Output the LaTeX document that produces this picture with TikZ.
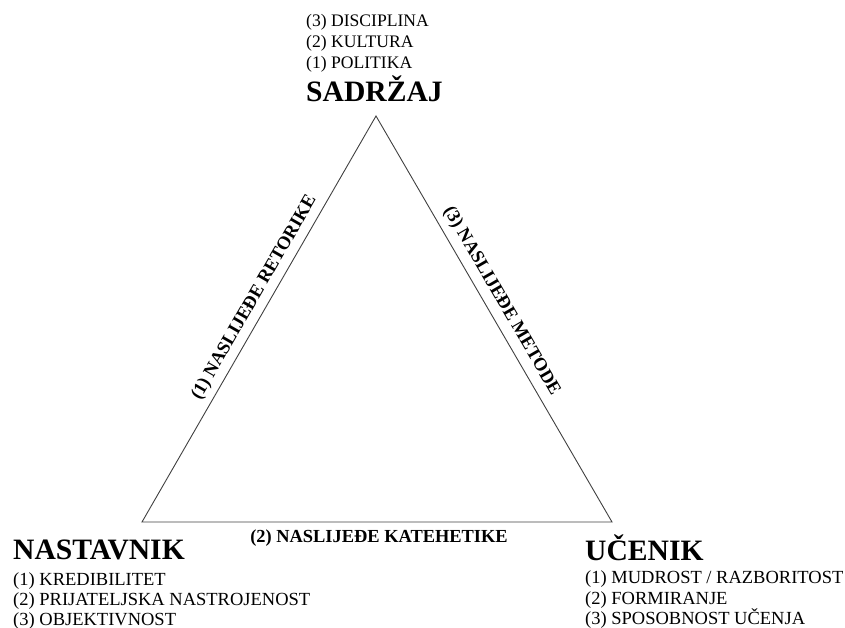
\documentclass[tikz,border=0pt]{standalone}
\usepackage{fontspec}
\setmainfont{Liberation Serif}
\begin{document}
\begin{tikzpicture}[x=1pt,y=-1pt,
  title/.style={anchor=base west,inner sep=0pt,font=\fontsize{29.6}{33}\selectfont\bfseries},
  item/.style={anchor=base west,inner sep=0pt,font=\fontsize{18.5}{21}\selectfont},
  topitem/.style={anchor=base west,inner sep=0pt,font=\fontsize{17.6}{20}\selectfont},
  edgelabel/.style={font=\fontsize{18.4}{21}\selectfont\bfseries,inner sep=0pt},
  side/.style={line width=0.9pt,draw=black!75}]
\useasboundingbox (0,0) rectangle (845,628);

% corners of the triangle
\coordinate (T) at (376,116);
\coordinate (L) at (142,522);
\coordinate (R) at (612,522);

\draw[side] (L) -- (T) -- (R) -- cycle;

% edge labels
\path (L) -- (T) node[edgelabel,pos=0.534,sloped,above=6pt] (retorika) {(1) NASLIJEĐE RETORIKE};
\path (T) -- (R) node[edgelabel,pos=0.475,sloped,above=7pt] (metode) {(3) NASLIJEĐE METODE};
\path (L) -- (R) node[edgelabel,midway,xshift=2pt,below=8pt] (katehetika) {(2) NASLIJEĐE KATEHETIKE};

% top corner
\node[topitem] (s3) at (306,27) {(3) DISCIPLINA};
\node[topitem] (s2) at (306,48) {(2) KULTURA};
\node[topitem] (s1) at (306,69) {(1) POLITIKA};
\node[title] (sadrzaj) at (306,102) {SADRŽAJ};

% bottom-left corner
\node[title] (nastavnik) at (13,559) {NASTAVNIK};
\node[item] (n1) at (13,585) {(1) KREDIBILITET};
\node[item] (n2) at (13,605) {(2) PRIJATELJSKA NASTROJENOST};
\node[item] (n3) at (13,625) {(3) OBJEKTIVNOST};

% bottom-right corner
\node[title] (ucenik) at (585,560) {UČENIK};
\node[item] (u1) at (585,583) {(1) MUDROST / RAZBORITOST};
\node[item] (u2) at (585,604) {(2) FORMIRANJE};
\node[item] (u3) at (585,624) {(3) SPOSOBNOST UČENJA};
\end{tikzpicture}
\end{document}
